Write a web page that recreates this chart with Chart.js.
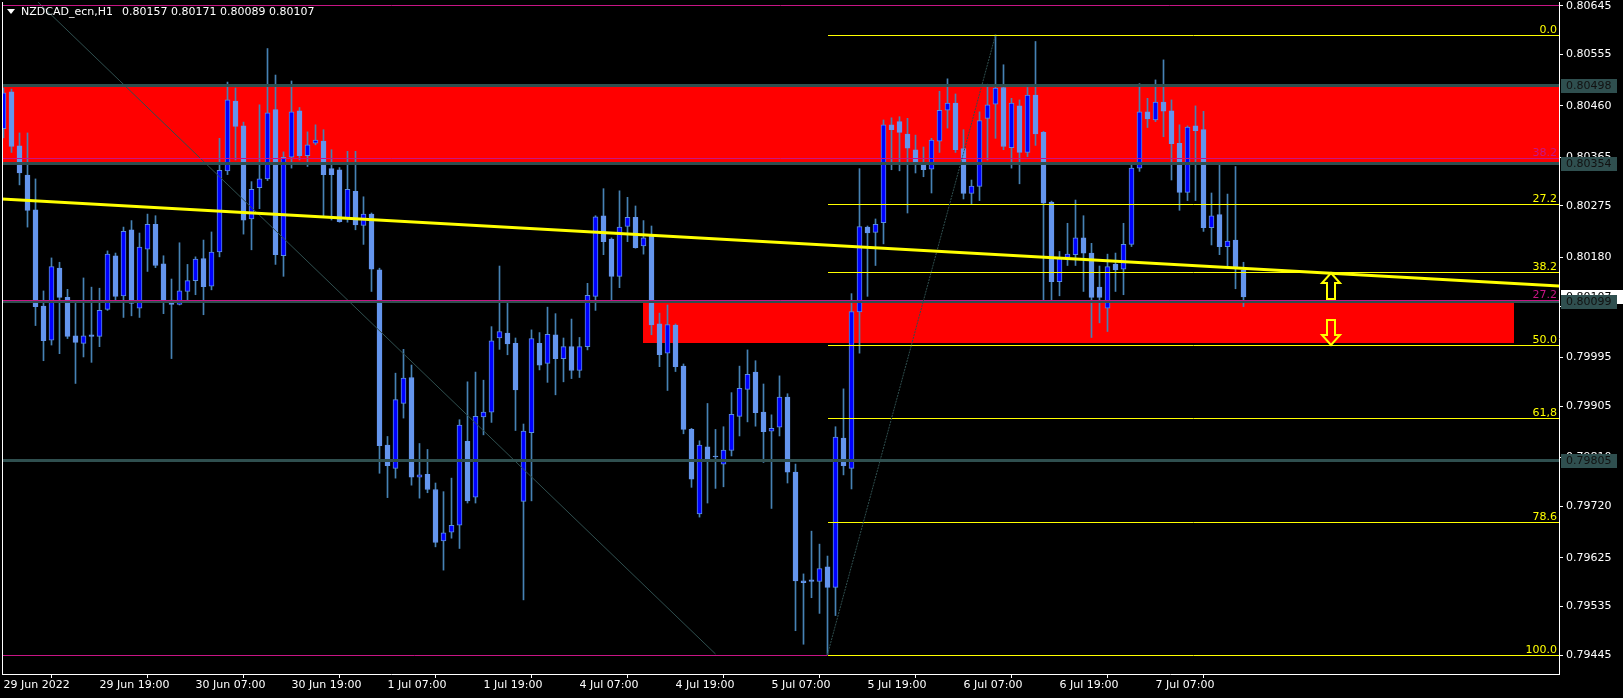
<!DOCTYPE html>
<html>
<head>
<meta charset="utf-8">
<title>NZDCAD_ecn,H1</title>
<script src="https://cdn.jsdelivr.net/npm/chart.js@4.4.1/dist/chart.umd.min.js"></script>
<style>
  html, body { margin: 0; padding: 0; background: #000; }
  #wrap { width: 1623px; height: 698px; }
</style>
</head>
<body>
<div id="wrap"><canvas id="chart" width="1623" height="698"></canvas></div>
<script>
// --- Data (bar 0 = 29 Jun 07:00) ---
const symbolTitle = 'NZDCAD_ecn,H1';
const timeLabels = ['29 Jun 2022', '29 Jun 19:00', '30 Jun 07:00', '30 Jun 19:00', '1 Jul 07:00',
  '1 Jul 19:00', '4 Jul 07:00', '4 Jul 19:00', '5 Jul 07:00', '5 Jul 19:00', '6 Jul 07:00',
  '6 Jul 19:00', '7 Jul 07:00'];
const barsPerLabel = 12;
const priceTicks = [0.80645, 0.80555, 0.80460, 0.80365, 0.80275, 0.80180, 0.80090,
  0.79995, 0.79905, 0.79810, 0.79720, 0.79625, 0.79535, 0.79445];

const opens = [
  0.80418, 0.80486, 0.80386, 0.80332, 0.80268, 0.80090, 0.80027, 0.80160, 0.80106, 0.80035,
  0.80021, 0.80037, 0.80034, 0.80084, 0.80183, 0.80109, 0.80231, 0.80086, 0.80195, 0.80241,
  0.80168, 0.80101, 0.80093, 0.80117, 0.80137, 0.80178, 0.80127, 0.80190, 0.80340, 0.80469,
  0.80423, 0.80251, 0.80309, 0.80325, 0.80453, 0.80183, 0.80365, 0.80451, 0.80368, 0.80391,
  0.80395, 0.80344, 0.80342, 0.80252, 0.80302, 0.80239, 0.80260, 0.80157, 0.79833, 0.79790,
  0.79910, 0.79958, 0.79774, 0.79779, 0.79751, 0.79656, 0.79672, 0.79685, 0.79840, 0.79737,
  0.79885, 0.79894, 0.80031, 0.80040, 0.80021, 0.79729, 0.79856, 0.80021, 0.79984, 0.80037,
  0.79993, 0.80015, 0.79971, 0.80015, 0.80108, 0.80257, 0.80214, 0.80145, 0.80237, 0.80254,
  0.80201, 0.80219, 0.80057, 0.80003, 0.80055, 0.79979, 0.79862, 0.79706, 0.79830, 0.79812,
  0.79798, 0.79823, 0.79886, 0.79936, 0.79968, 0.79894, 0.79859, 0.79866, 0.79922, 0.79783,
  0.79582, 0.79584, 0.79581, 0.79608, 0.79570, 0.79846, 0.79790, 0.80079, 0.80236, 0.80226,
  0.80244, 0.80425, 0.80431, 0.80408, 0.80379, 0.80352, 0.80343, 0.80395, 0.80452, 0.80465,
  0.80381, 0.80298, 0.80311, 0.80437, 0.80463, 0.80494, 0.80383, 0.80460, 0.80374, 0.80480,
  0.80411, 0.80282, 0.80135, 0.80180, 0.80185, 0.80216, 0.80188, 0.80125, 0.80086, 0.80167,
  0.80158, 0.80204, 0.80345, 0.80449, 0.80434, 0.80467, 0.80451, 0.80391, 0.80300, 0.80423,
  0.80416, 0.80235, 0.80259, 0.80200, 0.80212, 0.80157
];
const highs = [
  0.80493, 0.80491, 0.80410, 0.80410, 0.80325, 0.80118, 0.80179, 0.80171, 0.80121, 0.80095,
  0.80142, 0.80125, 0.80123, 0.80192, 0.80188, 0.80236, 0.80248, 0.80225, 0.80260, 0.80257,
  0.80183, 0.80140, 0.80207, 0.80167, 0.80181, 0.80212, 0.80227, 0.80400, 0.80504, 0.80493,
  0.80430, 0.80320, 0.80462, 0.80566, 0.80517, 0.80375, 0.80506, 0.80457, 0.80412, 0.80425,
  0.80416, 0.80379, 0.80346, 0.80376, 0.80376, 0.80292, 0.80262, 0.80160, 0.79849, 0.79966,
  0.80010, 0.79981, 0.79836, 0.79825, 0.79763, 0.79747, 0.79772, 0.79880, 0.79950, 0.79968,
  0.79953, 0.80052, 0.80164, 0.80095, 0.80031, 0.79872, 0.80046, 0.80041, 0.80088, 0.80076,
  0.80031, 0.80066, 0.80032, 0.80132, 0.80257, 0.80307, 0.80216, 0.80303, 0.80291, 0.80275,
  0.80248, 0.80238, 0.80077, 0.80092, 0.80057, 0.79983, 0.79864, 0.79841, 0.79910, 0.79862,
  0.79867, 0.79930, 0.79979, 0.80009, 0.79989, 0.79946, 0.79889, 0.79961, 0.79928, 0.79798,
  0.79595, 0.79674, 0.79650, 0.79628, 0.79867, 0.79937, 0.80113, 0.80344, 0.80238, 0.80251,
  0.80434, 0.80438, 0.80440, 0.80437, 0.80406, 0.80384, 0.80400, 0.80487, 0.80510, 0.80482,
  0.80416, 0.80323, 0.80449, 0.80500, 0.80591, 0.80536, 0.80474, 0.80471, 0.80494, 0.80579,
  0.80413, 0.80284, 0.80191, 0.80243, 0.80286, 0.80257, 0.80206, 0.80164, 0.80186, 0.80188,
  0.80243, 0.80351, 0.80501, 0.80474, 0.80508, 0.80545, 0.80471, 0.80425, 0.80423, 0.80460,
  0.80450, 0.80299, 0.80351, 0.80297, 0.80348, 0.80171
];
const lows = [
  0.80401, 0.80374, 0.80314, 0.80236, 0.80054, 0.79989, 0.80018, 0.80002, 0.80030, 0.79947,
  0.79996, 0.79986, 0.80015, 0.80082, 0.80101, 0.80069, 0.80072, 0.80069, 0.80154, 0.80161,
  0.80076, 0.79993, 0.80092, 0.80101, 0.80111, 0.80074, 0.80120, 0.80181, 0.80333, 0.80360,
  0.80223, 0.80194, 0.80270, 0.80322, 0.80167, 0.80145, 0.80345, 0.80360, 0.80348, 0.80388,
  0.80255, 0.80249, 0.80245, 0.80245, 0.80231, 0.80204, 0.80117, 0.79781, 0.79736, 0.79772,
  0.79883, 0.79759, 0.79735, 0.79745, 0.79645, 0.79602, 0.79661, 0.79642, 0.79726, 0.79726,
  0.79852, 0.79875, 0.80010, 0.80000, 0.79860, 0.79547, 0.79730, 0.79972, 0.79949, 0.79926,
  0.79950, 0.79956, 0.79958, 0.80009, 0.80082, 0.80185, 0.80101, 0.80124, 0.80209, 0.80197,
  0.80186, 0.80037, 0.79978, 0.79934, 0.79969, 0.79854, 0.79755, 0.79700, 0.79726, 0.79753,
  0.79756, 0.79813, 0.79850, 0.79876, 0.79868, 0.79801, 0.79716, 0.79850, 0.79763, 0.79490,
  0.79465, 0.79551, 0.79522, 0.79446, 0.79518, 0.79778, 0.79752, 0.80003, 0.80108, 0.80165,
  0.80205, 0.80342, 0.80340, 0.80262, 0.80336, 0.80329, 0.80299, 0.80374, 0.80419, 0.80374,
  0.80288, 0.80278, 0.80285, 0.80360, 0.80400, 0.80379, 0.80345, 0.80316, 0.80366, 0.80387,
  0.80101, 0.80101, 0.80109, 0.80165, 0.80165, 0.80117, 0.80032, 0.80059, 0.80043, 0.80117,
  0.80111, 0.80200, 0.80339, 0.80420, 0.80431, 0.80403, 0.80323, 0.80267, 0.80285, 0.80285,
  0.80228, 0.80203, 0.80185, 0.80163, 0.80122, 0.80089
];
const closes = [
  0.80484, 0.80385, 0.80336, 0.80267, 0.80089, 0.80026, 0.80163, 0.80106, 0.80034, 0.80023,
  0.80035, 0.80034, 0.80082, 0.80186, 0.80108, 0.80228, 0.80095, 0.80199, 0.80241, 0.80165,
  0.80101, 0.80093, 0.80118, 0.80137, 0.80177, 0.80126, 0.80190, 0.80341, 0.80471, 0.80422,
  0.80249, 0.80306, 0.80325, 0.80447, 0.80185, 0.80365, 0.80449, 0.80368, 0.80388, 0.80397,
  0.80333, 0.80333, 0.80246, 0.80306, 0.80240, 0.80260, 0.80158, 0.79832, 0.79795, 0.79917,
  0.79957, 0.79774, 0.79778, 0.79751, 0.79653, 0.79671, 0.79685, 0.79870, 0.79730, 0.79886,
  0.79894, 0.80026, 0.80043, 0.80020, 0.79935, 0.79859, 0.80030, 0.79981, 0.80038, 0.79993,
  0.80015, 0.79971, 0.80015, 0.80110, 0.80255, 0.80209, 0.80145, 0.80236, 0.80254, 0.80198,
  0.80216, 0.80055, 0.80000, 0.80056, 0.79978, 0.79862, 0.79770, 0.79833, 0.79808, 0.79811,
  0.79824, 0.79890, 0.79938, 0.79964, 0.79893, 0.79858, 0.79864, 0.79922, 0.79783, 0.79582,
  0.79579, 0.79581, 0.79605, 0.79570, 0.79848, 0.79795, 0.80080, 0.80237, 0.80225, 0.80241,
  0.80425, 0.80416, 0.80411, 0.80382, 0.80357, 0.80342, 0.80397, 0.80452, 0.80465, 0.80379,
  0.80298, 0.80312, 0.80433, 0.80462, 0.80493, 0.80385, 0.80465, 0.80374, 0.80480, 0.80408,
  0.80280, 0.80135, 0.80178, 0.80186, 0.80216, 0.80188, 0.80106, 0.80106, 0.80163, 0.80157,
  0.80204, 0.80345, 0.80449, 0.80436, 0.80467, 0.80450, 0.80390, 0.80300, 0.80421, 0.80414,
  0.80235, 0.80257, 0.80200, 0.80210, 0.80161, 0.80107
];

// --- Objects placed on the chart (bar index / price) ---
const horizontalLevels = [0.80498, 0.80354, 0.80099, 0.79805];
const upperZone = [0.80354, 0.80498];
const lowerZone = { fromBar: 79.94, toBar: 188.8, low: 0.80022, high: 0.80099 };
const magentaLevels = [0.80646, 0.80364, 0.80101];
const magentaLabels = ['', '38.2', '27.2'];
const magentaLowLevel = 0.79445;
const fibStartBar = 103;
const fibEndBar = 124;
const fibHigh = 0.80591;
const fibLow = 0.79446;
const fibRatios = [0, 27.2, 38.2, 50, 61.8, 78.6, 100];
const fibLabels = ['0.0', '27.2', '38.2', '50.0', '61,8', '78.6', '100.0'];
const yellowTrend = [[-0.4375, 0.80288], [194.5, 0.80127]];
const grayTrend = [[4.3, 0.80652], [89, 0.79447]];
const arrowUp = { bar: 165.9, price: 0.80151 };
const arrowDown = { bar: 165.9, price: 0.80064 };

// view range
const xMin = -0.1875;
const xMax = xMin + 1557 / 8;
const yMin = 0.79410;
const yMax = 0.80652;

const font = { family: 'DejaVu Sans', size: 11 };
const SLATE = '#2F4F4F';
const MAGENTA = '#C71585';
const YELLOW = '#FFFF00';

const barIdx = opens.map((_, i) => i);
const isBull = opens.map((o, i) => closes[i] >= o);

function hLine(ctx, x1, x2, yPx, color, width) {
  ctx.strokeStyle = color;
  ctx.lineWidth = width;
  ctx.beginPath();
  const yy = width % 2 ? Math.round(yPx) + 0.5 : Math.round(yPx);
  ctx.moveTo(x1, yy);
  ctx.lineTo(x2, yy);
  ctx.stroke();
}

function arrowPath(ctx, cx, top, up) {
  // hollow MT4-style arrow, 19px wide and ~26px tall
  const pts = up
    ? [[0, 0], [9, 10], [4, 10], [4, 26], [-4, 26], [-4, 10], [-9, 10]]
    : [[-4, 0], [4, 0], [4, 15], [9, 15], [0, 25], [-9, 15], [-4, 15]];
  ctx.beginPath();
  pts.forEach(([dx, dy], i) => {
    if (i === 0) ctx.moveTo(cx + dx, top + dy); else ctx.lineTo(cx + dx, top + dy);
  });
  ctx.closePath();
  ctx.stroke();
}

// keep the plot area flush with the frame (no room reserved for edge labels)
function noEdgePadding(axis) {
  axis.paddingTop = 0;
  axis.paddingBottom = 0;
  axis.paddingLeft = 0;
  axis.paddingRight = 0;
}

const chartObjects = {
  id: 'chartObjects',
  beforeDatasetsDraw(chart) {
    const { ctx, chartArea: a, scales: { x, y } } = chart;
    ctx.save();
    ctx.beginPath();
    ctx.rect(a.left, a.top, a.right - a.left, a.bottom - a.top);
    ctx.clip();
    ctx.fillStyle = '#FF0000';
    // upper supply zone stretches over the whole window
    let t = Math.round(y.getPixelForValue(upperZone[1]));
    let b = Math.round(y.getPixelForValue(upperZone[0]));
    ctx.fillRect(a.left, t, a.right - a.left, b - t);
    // lower zone
    t = Math.round(y.getPixelForValue(lowerZone.high));
    b = Math.round(y.getPixelForValue(lowerZone.low));
    const l = Math.round(x.getPixelForValue(lowerZone.fromBar));
    const r = Math.round(x.getPixelForValue(lowerZone.toBar));
    ctx.fillRect(l, t, r - l, b - t);
    ctx.restore();
  },
  afterDatasetsDraw(chart) {
    const { ctx, chartArea: a, scales: { x, y } } = chart;
    ctx.save();
    ctx.beginPath();
    ctx.rect(a.left, a.top, a.right - a.left, a.bottom - a.top);
    ctx.clip();

    // gray trend line
    ctx.strokeStyle = SLATE;
    ctx.lineWidth = 1;
    ctx.beginPath();
    ctx.moveTo(x.getPixelForValue(grayTrend[0][0]), y.getPixelForValue(grayTrend[0][1]));
    ctx.lineTo(x.getPixelForValue(grayTrend[1][0]), y.getPixelForValue(grayTrend[1][1]));
    ctx.stroke();

    // horizontal levels
    horizontalLevels.forEach(p => hLine(ctx, a.left, a.right, y.getPixelForValue(p), SLATE, 3));

    // magenta fibo lines
    magentaLevels.forEach(p => hLine(ctx, a.left, a.right, y.getPixelForValue(p), MAGENTA, 1));
    hLine(ctx, a.left, x.getPixelForValue(fibStartBar), y.getPixelForValue(magentaLowLevel), MAGENTA, 1);

    // yellow fibo levels
    const fx = Math.round(x.getPixelForValue(fibStartBar));
    fibRatios.forEach(r => {
      const p = fibHigh - (r / 100) * (fibHigh - fibLow);
      hLine(ctx, fx, a.right, y.getPixelForValue(p), YELLOW, 1);
    });

    // fibo diagonal
    ctx.strokeStyle = SLATE;
    ctx.lineWidth = 1;
    ctx.setLineDash([2, 1]);
    ctx.beginPath();
    ctx.moveTo(x.getPixelForValue(fibStartBar), y.getPixelForValue(fibLow));
    ctx.lineTo(x.getPixelForValue(fibEndBar), y.getPixelForValue(fibHigh));
    ctx.stroke();
    ctx.setLineDash([]);

    // thick yellow trend line
    ctx.strokeStyle = YELLOW;
    ctx.lineWidth = 3;
    ctx.beginPath();
    ctx.moveTo(x.getPixelForValue(yellowTrend[0][0]), y.getPixelForValue(yellowTrend[0][1]));
    ctx.lineTo(x.getPixelForValue(yellowTrend[1][0]), y.getPixelForValue(yellowTrend[1][1]));
    ctx.stroke();

    // level labels
    ctx.font = '11px "DejaVu Sans"';
    ctx.textAlign = 'right';
    ctx.textBaseline = 'alphabetic';
    ctx.fillStyle = YELLOW;
    fibRatios.forEach((r, i) => {
      const p = fibHigh - (r / 100) * (fibHigh - fibLow);
      ctx.fillText(fibLabels[i], a.right - 2, Math.round(y.getPixelForValue(p)) - 2);
    });
    ctx.fillStyle = MAGENTA;
    magentaLevels.forEach((p, i) => {
      if (magentaLabels[i]) ctx.fillText(magentaLabels[i], a.right - 2, Math.round(y.getPixelForValue(p)) - 2);
    });

    // arrows
    ctx.strokeStyle = YELLOW;
    ctx.lineWidth = 2;
    arrowPath(ctx, Math.round(x.getPixelForValue(arrowUp.bar)), Math.round(y.getPixelForValue(arrowUp.price)), true);
    arrowPath(ctx, Math.round(x.getPixelForValue(arrowDown.bar)), Math.round(y.getPixelForValue(arrowDown.price)), false);
    ctx.restore();
  },
  afterDraw(chart) {
    const { ctx, chartArea: a, scales: { y } } = chart;
    ctx.save();
    // left frame line
    ctx.strokeStyle = '#FFFFFF';
    ctx.lineWidth = 1;
    ctx.beginPath();
    ctx.moveTo(a.left + 0.5, a.top);
    ctx.lineTo(a.left + 0.5, a.bottom);
    ctx.stroke();

    // price boxes on the axis
    ctx.font = '11px "DejaVu Sans"';
    ctx.textAlign = 'left';
    ctx.textBaseline = 'middle';
    const bx = a.right + 2;
    const bid = closes[closes.length - 1];
    let yy = Math.round(y.getPixelForValue(bid));
    ctx.fillStyle = '#FFFFFF';
    ctx.fillRect(bx, yy - 7, chart.width - bx, 14);
    ctx.fillStyle = '#000000';
    ctx.fillText(bid.toFixed(5), bx + 5, yy);
    horizontalLevels.forEach(p => {
      yy = Math.round(y.getPixelForValue(p));
      ctx.fillStyle = SLATE;
      ctx.fillRect(bx, yy - 6, 56, 14);
      ctx.fillStyle = '#111111';
      ctx.fillText(p.toFixed(5), bx + 5, yy + 1);
    });

    // title in the top-left corner
    ctx.fillStyle = '#FFFFFF';
    ctx.beginPath();
    ctx.moveTo(7, 9);
    ctx.lineTo(15, 9);
    ctx.lineTo(11, 14);
    ctx.closePath();
    ctx.fill();
    const last = opens.length - 1;
    const ohlc = [opens[last], highs[last], lows[last], closes[last]].map(v => v.toFixed(5)).join(' ');
    ctx.fillText(symbolTitle, 21, 12);
    ctx.fillText(ohlc, 122, 12);
    ctx.restore();
  }
};

new Chart(document.getElementById('chart'), {
  type: 'bar',
  data: {
    datasets: [
      {
        label: 'body',
        data: barIdx.map(i => ({ x: i, y: [opens[i], closes[i]] })),
        backgroundColor: isBull.map(b => (b ? '#0000FF' : '#6495ED')),
        borderColor: isBull.map(b => (b ? '#5B8CE0' : '#6495ED')),
        borderWidth: 1,
        borderSkipped: false,
        barThickness: 5,
        minBarLength: 1,
        grouped: false,
        order: 0
      },
      {
        label: 'wick',
        data: barIdx.map(i => ({ x: i, y: [lows[i], highs[i]] })),
        backgroundColor: '#4682B4',
        borderWidth: 0,
        barThickness: 1,
        minBarLength: 1,
        grouped: false,
        order: 1
      }
    ]
  },
  options: {
    responsive: false,
    animation: false,
    devicePixelRatio: 1,
    layout: { padding: { left: 2, top: 2, right: 0, bottom: 0 } },
    plugins: { legend: { display: false }, tooltip: { enabled: false } },
    scales: {
      x: {
        type: 'linear',
        min: xMin,
        max: xMax,
        offset: false,
        afterBuildTicks: (axis) => {
          axis.ticks = timeLabels.map((_, i) => ({ value: i * barsPerLabel }));
        },
        afterFit: (axis) => { axis.height = 24; noEdgePadding(axis); },
        ticks: {
          autoSkip: false,
          maxRotation: 0,
          align: 'start',
          padding: 1,
          color: '#FFFFFF',
          font,
          callback: (v) => timeLabels[Math.round(v / barsPerLabel)]
        },
        grid: { drawOnChartArea: false, drawTicks: true, tickLength: 4, color: '#FFFFFF' },
        border: { color: '#FFFFFF' }
      },
      y: {
        position: 'right',
        min: yMin,
        max: yMax,
        afterBuildTicks: (axis) => {
          axis.ticks = priceTicks.map(v => ({ value: v }));
        },
        afterFit: (axis) => { axis.width = 64; noEdgePadding(axis); },
        ticks: {
          autoSkip: false,
          padding: 3,
          color: '#FFFFFF',
          font,
          callback: (v) => v.toFixed(5)
        },
        grid: { drawOnChartArea: false, drawTicks: true, tickLength: 4, color: '#FFFFFF' },
        border: { color: '#FFFFFF' }
      }
    }
  },
  plugins: [chartObjects]
});
</script>
</body>
</html>
